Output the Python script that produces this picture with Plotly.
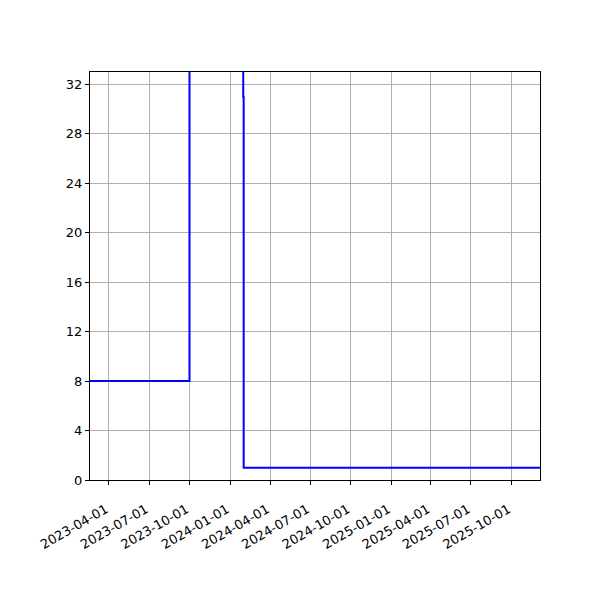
import plotly.graph_objects as go

# change dates and values (step after each date)
dates = ["2023-02-17", "2023-10-01", "2024-01-31", "2024-02-01", "2025-12-05"]
values = [8, 40, 31, 1, 1]

tick_dates = [
    "2023-04-01", "2023-07-01", "2023-10-01", "2024-01-01", "2024-04-01",
    "2024-07-01", "2024-10-01", "2025-01-01", "2025-04-01", "2025-07-01",
    "2025-10-01",
]
y_ticks = [0, 4, 8, 12, 16, 20, 24, 28, 32]

fig = go.Figure()
fig.add_trace(
    go.Scatter(
        x=dates,
        y=values,
        mode="lines",
        line=dict(color="blue", width=2, shape="hv"),
        showlegend=False,
    )
)

axis_style = dict(
    showline=True,
    linecolor="black",
    linewidth=1,
    mirror=True,
    ticks="outside",
    ticklen=4,
    tickcolor="black",
    showgrid=True,
    gridcolor="#b0b0b0",
    gridwidth=1,
    zeroline=False,
    automargin=False,
    tickfont=dict(family="DejaVu Sans", size=13, color="black"),
)

# page body adds ~8px offset, so margins are shifted to compensate
fig.update_layout(
    width=600,
    height=600,
    plot_bgcolor="white",
    paper_bgcolor="white",
    margin=dict(l=82, r=68, t=64, b=128),
    xaxis=dict(
        type="date",
        range=["2023-02-17", "2025-12-05"],
        tickvals=tick_dates,
        ticktext=tick_dates,
        tickangle=-30,
        ticklabelshift=-3,
        ticklabelstandoff=12,
        **axis_style,
    ),
    yaxis=dict(
        range=[0, 33],
        tickvals=y_ticks,
        **axis_style,
    ),
)

fig.write_html("out.html")
